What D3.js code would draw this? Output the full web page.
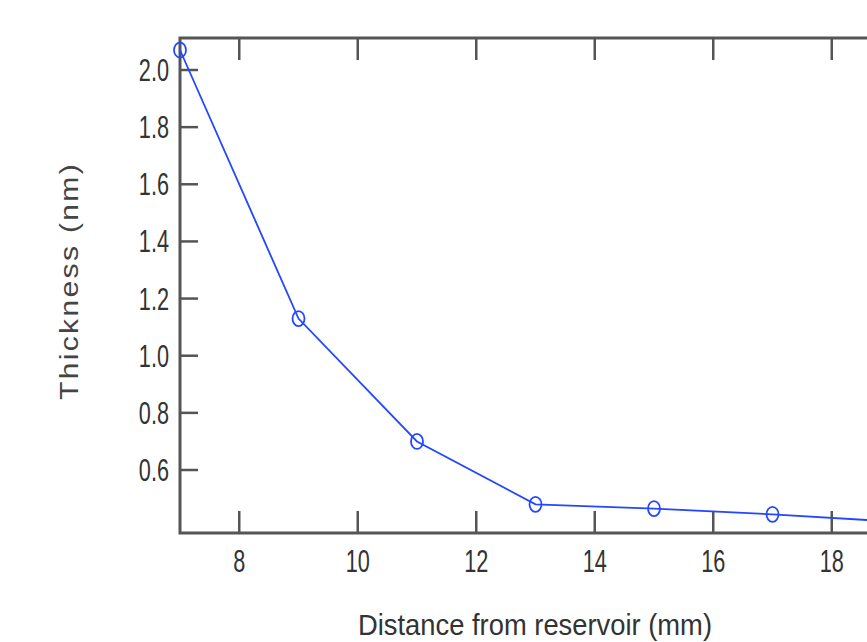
<!DOCTYPE html>
<html>
<head>
<meta charset="utf-8">
<script src="https://cdn.jsdelivr.net/npm/d3@7"></script>
<style>
  body { margin: 0; background: #fff; }
  svg { display: block; }
  .lbl { font-family: "Liberation Sans", Arial, sans-serif; fill: #333; }
</style>
</head>
<body>
<svg id="chart" width="867" height="642"></svg>
<script>
// distance from reservoir (mm)
const distance = [7, 9, 11, 13, 15, 17, 19]
// thickness (nm)
const thickness = [2.07, 1.13, 0.70, 0.48, 0.465, 0.445, 0.42]

const xTicks = [8, 10, 12, 14, 16, 18]
const yTicks = [0.6, 0.8, 1.0, 1.2, 1.4, 1.6, 1.8, 2.0]

const svg = d3.select("#chart")

let frameLeft = 180, frameTop = 38, frameBottom = 533
let x = d3.scaleLinear().domain([7, 9]).range([frameLeft, frameLeft + 118.5])
let y = d3.scaleLinear().domain([0.6, 2.0]).range([470, 70])

let xEnd = x(20)
let frameColor = "#555"
let squeeze = 0.7

// top ticks
svg.selectAll(".ttick")
  .data(xTicks)
  .join("line")
  .attr("class", "ttick")
  .attr("x1", d => x(d)).attr("x2", d => x(d))
  .attr("y1", frameTop).attr("y2", frameTop + 22)
  .style("stroke", frameColor).style("stroke-width", 2.5)

// bottom ticks
svg.selectAll(".btick")
  .data(xTicks)
  .join("line")
  .attr("class", "btick")
  .attr("x1", d => x(d)).attr("x2", d => x(d))
  .attr("y1", frameBottom).attr("y2", frameBottom - 22)
  .style("stroke", frameColor).style("stroke-width", 2.5)

// left ticks
svg.selectAll(".ltick")
  .data(yTicks)
  .join("line")
  .attr("class", "ltick")
  .attr("x1", frameLeft).attr("x2", frameLeft + 18)
  .attr("y1", d => y(d)).attr("y2", d => y(d))
  .style("stroke", frameColor).style("stroke-width", 2.5)

// frame
svg.append("path")
  .attr("d", `M${xEnd},${frameTop}H${frameLeft}V${frameBottom}H${xEnd}`)
  .style("fill", "none")
  .style("stroke", frameColor)
  .style("stroke-width", 3)

// tick labels (narrow, tall digits)
svg.selectAll(".xlab")
  .data(xTicks)
  .join("text")
  .attr("class", "lbl xlab")
  .attr("transform", d => `translate(${x(d)},572) scale(${squeeze},1)`)
  .attr("text-anchor", "middle")
  .style("font-size", "31px")
  .text(d => d)

svg.selectAll(".ylab")
  .data(yTicks)
  .join("text")
  .attr("class", "lbl ylab")
  .attr("transform", d => `translate(169,${y(d) + 11}) scale(${squeeze},1)`)
  .attr("text-anchor", "end")
  .style("font-size", "31px")
  .text(d => d3.format(".1f")(d))

// axis titles
svg.append("text")
  .attr("class", "lbl")
  .attr("x", 358)
  .attr("y", 635)
  .attr("textLength", 354)
  .attr("lengthAdjust", "spacingAndGlyphs")
  .style("font-size", "30px")
  .text("Distance from reservoir (mm)")

svg.append("text")
  .attr("class", "lbl")
  .attr("transform", "translate(78,400) rotate(-90)")
  .attr("textLength", 238)
  .attr("lengthAdjust", "spacingAndGlyphs")
  .style("font-size", "26px")
  .style("letter-spacing", "2px")
  .style("fill", "#444")
  .text("Thickness (nm)")

// data line
let line = d3.line().x((d, i) => x(distance[i])).y(d => y(d))
let blue = "#2448ff"

svg.append("path")
  .datum(thickness)
  .attr("d", line)
  .style("fill", "none")
  .style("stroke", blue)
  .style("stroke-width", 1.8)

svg.selectAll(".pt")
  .data(thickness)
  .join("ellipse")
  .attr("class", "pt")
  .attr("cx", (d, i) => x(distance[i]))
  .attr("cy", d => y(d))
  .attr("rx", 6)
  .attr("ry", 7.5)
  .style("fill", "none")
  .style("stroke", blue)
  .style("stroke-width", 1.8)
</script>
</body>
</html>
